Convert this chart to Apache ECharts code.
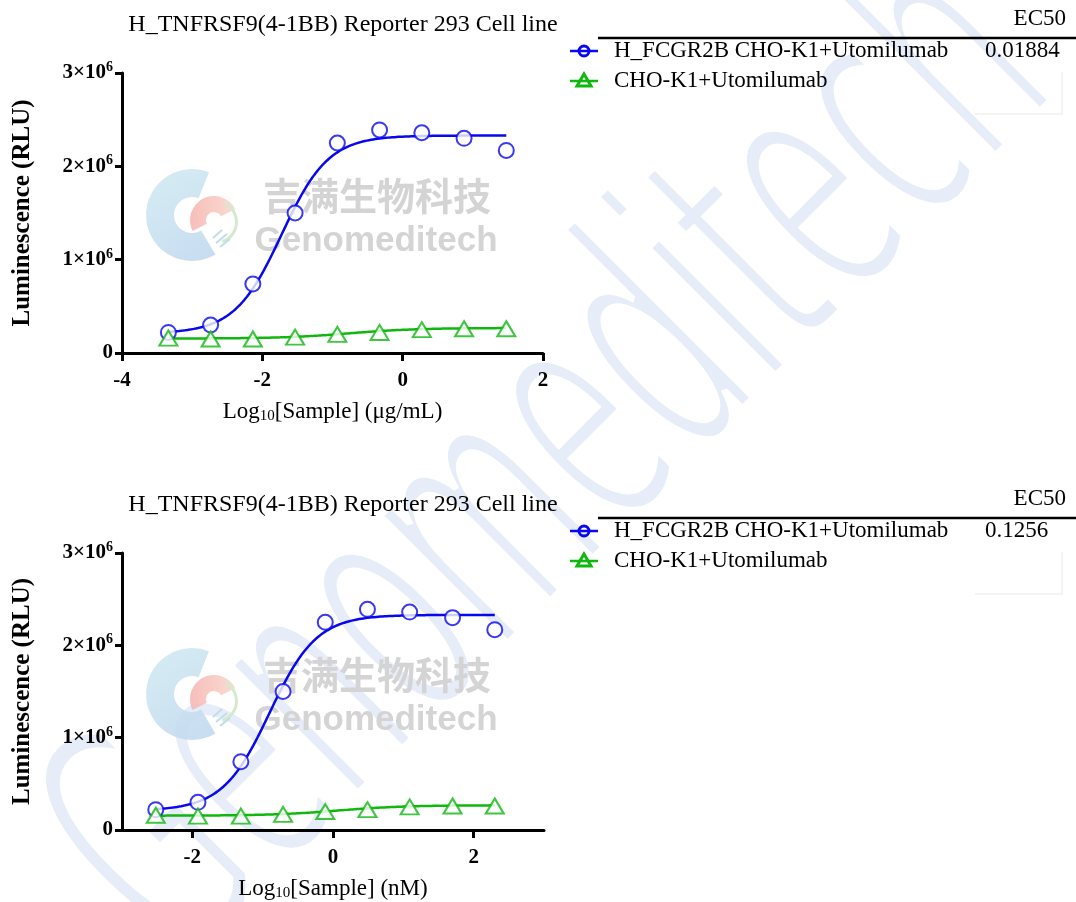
<!DOCTYPE html>
<html>
<head>
<meta charset="utf-8">
<script src="https://cdn.jsdelivr.net/npm/echarts@6/dist/echarts.min.js"></script>
<style>
  html, body { margin: 0; padding: 0; background: #fff; }
  #chart { width: 1076px; height: 902px; }
</style>
</head>
<body>
<div id="chart"></div>
<script>
// Log10 concentrations of the 4-fold dilution series
const logConcUgPerMl = [-3.339, -2.737, -2.135, -1.533, -0.931, -0.329, 0.273, 0.875, 1.477];
const logConcNM = [-2.52, -1.92, -1.31, -0.71, -0.11, 0.49, 1.09, 1.70, 2.30];

// Luminescence readings (RLU)
const fcgr2bChoK1 = [0.22e6, 0.30e6, 0.74e6, 1.50e6, 2.25e6, 2.39e6, 2.36e6, 2.30e6, 2.17e6];
const choK1 = [0.16e6, 0.15e6, 0.15e6, 0.17e6, 0.20e6, 0.22e6, 0.25e6, 0.26e6, 0.26e6];

// Four-parameter logistic fit results
const ec50UgPerMl = 0.01884;
const ec50NM = 0.1256;
const fitFcgr2b = { bottom: 0.21e6, top: 2.33e6, hill: 1.3 };
const fitChoK1 = { bottom: 0.155e6, top: 0.268e6, hill: 0.9 };
const choK1LogEC50Ug = -0.75;
const choK1LogEC50NM = 0.08;

// Text
const chartTitle = 'H_TNFRSF9(4-1BB) Reporter 293 Cell line';
const seriesNames = ['H_FCGR2B CHO-K1+Utomilumab', 'CHO-K1+Utomilumab'];
const yTicks = [0, 1e6, 2e6, 3e6];
const xTicksUg = [-4, -2, 0, 2];
const xTicksNM = [-2, 0, 2];

const BLUE = '#0808f0';
const GREEN = '#0fb70f';
const SERIF = '"Liberation Serif", "Times New Roman", serif';

function curve(xs, p, logEC50) {
  const out = [];
  const x0 = xs[0], x1 = xs[xs.length - 1], n = 160;
  for (let i = 0; i <= n; i++) {
    const x = x0 + (x1 - x0) * i / n;
    const y = p.bottom + (p.top - p.bottom) / (1 + Math.pow(10, (logEC50 - x) * p.hill));
    out.push([x, y]);
  }
  return out;
}
const pairs = (xs, ys) => xs.map((x, i) => [x, ys[i]]);

function yAxisFor(gridIndex) {
  return {
    type: 'value', gridIndex, min: 0, max: 3e6, interval: 1e6,
    name: 'Luminescence (RLU)', nameLocation: 'middle', nameGap: 87,
    nameTextStyle: { fontFamily: SERIF, fontWeight: 'bold', fontSize: 25, color: '#000' },
    axisLine: { show: true, onZero: false, lineStyle: { color: '#000', width: 3 } },
    axisTick: { show: true, length: 7, lineStyle: { color: '#000', width: 3 } },
    splitLine: { show: false },
    axisLabel: {
      margin: 9, color: '#000', fontFamily: SERIF, fontWeight: 'bold', fontSize: 21,
      formatter: v => v === 0 ? '0' : '{b|' + (v / 1e6) + '×10}{s|6}',
      rich: {
        b: { fontFamily: SERIF, fontWeight: 'bold', fontSize: 21, color: '#000' },
        s: { fontFamily: SERIF, fontWeight: 'bold', fontSize: 14, color: '#000', verticalAlign: 'top', padding: [0, 0, 11, 0] }
      }
    }
  };
}

function xAxisFor(gridIndex, min, max, ticks, unit) {
  return {
    type: 'value', gridIndex, min, max,
    name: '{n|Log}{sub|10}{n|[Sample] (' + unit + ')}',
    nameLocation: 'middle', nameGap: 47,
    nameTextStyle: {
      rich: {
        n: { fontFamily: SERIF, fontSize: 23, color: '#000' },
        sub: { fontFamily: SERIF, fontSize: 15, color: '#000', verticalAlign: 'bottom', padding: [9, 0, 0, 0] }
      }
    },
    axisLine: { show: true, onZero: false, lineStyle: { color: '#000', width: 3 } },
    axisTick: { show: true, length: 8, customValues: ticks, lineStyle: { color: '#000', width: 3 } },
    splitLine: { show: false },
    axisLabel: {
      customValues: ticks, margin: 17, color: '#000',
      fontFamily: SERIF, fontWeight: 'bold', fontSize: 21
    }
  };
}

function seriesFor(idx, xs, logEC50Blue, logEC50Green) {
  return [
    {
      type: 'line', name: seriesNames[0] + ' fit', xAxisIndex: idx, yAxisIndex: idx,
      data: curve(xs, fitFcgr2b, logEC50Blue), showSymbol: false, symbol: 'none',
      lineStyle: { color: BLUE, width: 2.5 }, z: 3, silent: true, animation: false
    },
    {
      type: 'line', name: seriesNames[1] + ' fit', xAxisIndex: idx, yAxisIndex: idx,
      data: curve(xs, fitChoK1, logEC50Green), showSymbol: false, symbol: 'none',
      lineStyle: { color: GREEN, width: 2.5 }, z: 3, silent: true, animation: false
    },
    {
      type: 'scatter', name: seriesNames[0], xAxisIndex: idx, yAxisIndex: idx,
      data: pairs(xs, fcgr2bChoK1), symbol: 'emptyCircle', symbolSize: 15,
      itemStyle: { color: BLUE, borderColor: BLUE, borderWidth: 3.2 }, z: 4, animation: false
    },
    {
      type: 'scatter', name: seriesNames[1], xAxisIndex: idx, yAxisIndex: idx,
      data: pairs(xs, choK1), symbol: 'emptyTriangle', symbolSize: [18, 15],
      itemStyle: { color: GREEN, borderColor: GREEN, borderWidth: 3.2 }, z: 5, animation: false
    }
  ];
}

// Legend block with EC50 column
function legendBlock(dy, ec50Text) {
  const font = '23px ' + SERIF;
  return [
    { type: 'text', x: 1066, y: 19 + dy, z: 20, style: { text: 'EC50', font, fill: '#000', align: 'right', verticalAlign: 'middle' } },
    { type: 'line', z: 20, shape: { x1: 598, y1: 38 + dy, x2: 1076, y2: 38 + dy }, style: { stroke: '#000', lineWidth: 2.5 } },
    { type: 'line', z: 20, shape: { x1: 570, y1: 51 + dy, x2: 598, y2: 51 + dy }, style: { stroke: BLUE, lineWidth: 2.5 } },
    { type: 'circle', z: 21, shape: { cx: 584, cy: 51 + dy, r: 5 }, style: { stroke: BLUE, lineWidth: 3, fill: null } },
    { type: 'text', x: 614, y: 51 + dy, z: 20, style: { text: seriesNames[0], font, fill: '#000', verticalAlign: 'middle' } },
    { type: 'text', x: 985, y: 51 + dy, z: 20, style: { text: ec50Text, font, fill: '#000', verticalAlign: 'middle' } },
    { type: 'line', z: 20, shape: { x1: 570, y1: 81 + dy, x2: 598, y2: 81 + dy }, style: { stroke: GREEN, lineWidth: 2.5 } },
    { type: 'polygon', z: 21, shape: { points: [[584, 74 + dy], [591, 86 + dy], [577, 86 + dy]] }, style: { stroke: GREEN, lineWidth: 3, fill: null } },
    { type: 'text', x: 614, y: 81 + dy, z: 20, style: { text: seriesNames[1], font, fill: '#000', verticalAlign: 'middle' } },
    { type: 'polyline', z: 1, shape: { points: [[975, 114 + dy], [1062, 114 + dy], [1062, 72 + dy]] }, style: { stroke: '#f1f1f1', lineWidth: 1.5, fill: null } }
  ];
}

// Company logo mark and wordmark inside each plot
function logoMark(dy) {
  return [
    { type: 'sector', z: -5, shape: { cx: 192, cy: 215 + dy, r0: 18, r: 46, startAngle: Math.PI * 0.33, endAngle: Math.PI * 1.62, clockwise: true },
      style: { fill: { type: 'linear', x: 0, y: 0, x2: 1, y2: 1, colorStops: [{ offset: 0, color: '#d2ebf2' }, { offset: 1, color: '#c0d8ef' }] }, opacity: 0.9 } },
    { type: 'sector', z: -4, shape: { cx: 214, cy: 220 + dy, r0: 8, r: 24, startAngle: Math.PI * 0.85, endAngle: Math.PI * 1.85, clockwise: true },
      style: { fill: { type: 'linear', x: 0, y: 0, x2: 1, y2: 0, colorStops: [{ offset: 0, color: '#f6b7b3' }, { offset: 1, color: '#f9d7cc' }] }, opacity: 0.9 } },
    { type: 'sector', z: -4, shape: { cx: 216, cy: 222 + dy, r0: 19, r: 22, startAngle: -Math.PI * 0.35, endAngle: Math.PI * 0.4, clockwise: true },
      style: { fill: '#d3eacb' } },
    { type: 'polyline', z: -4, shape: { points: [[213, 238 + dy], [222, 230 + dy]] }, style: { stroke: '#bfdeeb', lineWidth: 2 } },
    { type: 'polyline', z: -4, shape: { points: [[216, 243 + dy], [227, 234 + dy]] }, style: { stroke: '#bfdeeb', lineWidth: 2 } },
    { type: 'polyline', z: -4, shape: { points: [[220, 247 + dy], [230, 239 + dy]] }, style: { stroke: '#bfdeeb', lineWidth: 2 } },
    { type: 'text', x: 377, y: 196 + dy, z: -3, style: { text: '吉满生物科技', font: 'bold 38px "Noto Sans CJK SC"', fill: '#d4d4d4', align: 'center', verticalAlign: 'middle' } },
    { type: 'text', x: 376, y: 241 + dy, z: -3, style: { text: 'Genomeditech', font: 'bold 35px "Liberation Sans", Arial, sans-serif', fill: '#d4d4d4', align: 'center', verticalAlign: 'middle' } }
  ];
}

// Large diagonal brand mark behind everything; a white outline drawn over it thins the strokes
const brandMark = { text: 'Genomeditech', font: '340px "DejaVu Sans", sans-serif', align: 'center', verticalAlign: 'middle' };
const backdrop = [
  { type: 'text', x: 560, y: 470, z: -10, rotation: Math.PI / 4, scaleX: 0.5,
    style: Object.assign({ fill: '#e6ecf8' }, brandMark) },
  { type: 'text', x: 560, y: 470, z: -9, rotation: Math.PI / 4, scaleX: 0.5,
    style: Object.assign({ fill: 'rgba(255,255,255,0)', stroke: '#ffffff', lineWidth: 12 }, brandMark) }
];

const chart = echarts.init(document.getElementById('chart'), null, { renderer: 'canvas' });
chart.setOption({
  backgroundColor: '#fff',
  animation: false,
  title: [
    { text: chartTitle, left: 338, top: 8, textAlign: 'center', textStyle: { fontFamily: SERIF, fontWeight: 'normal', fontSize: 24, color: '#000' } },
    { text: chartTitle, left: 338, top: 488, textAlign: 'center', textStyle: { fontFamily: SERIF, fontWeight: 'normal', fontSize: 24, color: '#000' } }
  ],
  grid: [
    { left: 122, top: 73, width: 421, height: 280, containLabel: false },
    { left: 122, top: 553, width: 422, height: 278, containLabel: false }
  ],
  xAxis: [xAxisFor(0, -4, 2, xTicksUg, 'μg/mL'), xAxisFor(1, -3, 3, xTicksNM, 'nM')],
  yAxis: [yAxisFor(0), yAxisFor(1)],
  series: [
    ...seriesFor(0, logConcUgPerMl, Math.log10(ec50UgPerMl), choK1LogEC50Ug),
    ...seriesFor(1, logConcNM, Math.log10(ec50NM), choK1LogEC50NM)
  ],
  graphic: { elements: [...backdrop, ...logoMark(0), ...logoMark(479), ...legendBlock(0, String(ec50UgPerMl)), ...legendBlock(480, String(ec50NM))] }
});
</script>
</body>
</html>
